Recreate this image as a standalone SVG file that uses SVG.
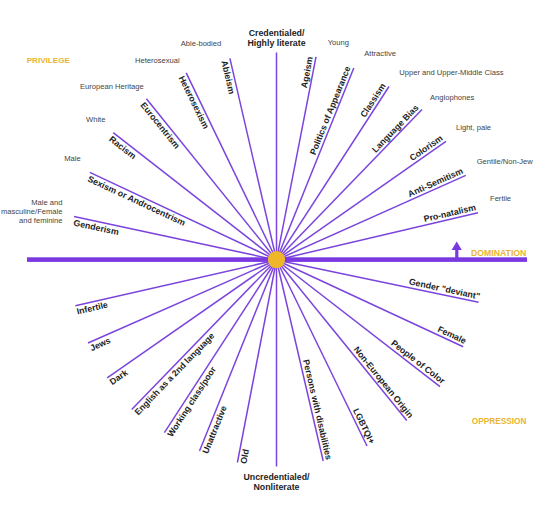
<svg xmlns="http://www.w3.org/2000/svg" width="553" height="519" viewBox="0 0 553 519">
<style>
  .spoke { stroke: #7b45dd; stroke-width: 1.5; stroke-linecap: butt; }
  .lbl { font-family: "Liberation Sans", Arial, sans-serif; font-size: 8.8px; font-weight: bold; fill: #1e1e1e; }
  .val { font-family: "Liberation Sans", Arial, sans-serif; font-size: 7.6px; fill: #444; }
  .head { font-family: "Liberation Sans", Arial, sans-serif; font-weight: bold; fill: #e8b530; }
</style>
<rect width="553" height="519" fill="#fff"/>
<g id="connectors">
  <line class="spoke" x1="276.5" y1="260" x2="276.5" y2="52.5"/>
  <line class="spoke" x1="276.5" y1="260" x2="229.9" y2="58.3"/>
  <line class="spoke" x1="276.5" y1="260" x2="186.2" y2="72.8"/>
  <line class="spoke" x1="276.5" y1="260" x2="146.4" y2="98.8"/>
  <line class="spoke" x1="276.5" y1="260" x2="113.2" y2="132.6"/>
  <line class="spoke" x1="276.5" y1="260" x2="89.8" y2="172.4"/>
  <line class="spoke" x1="276.5" y1="260" x2="74" y2="216.5"/>
  <line class="spoke" x1="276.5" y1="260" x2="316" y2="56.8"/>
  <line class="spoke" x1="276.5" y1="260" x2="353.8" y2="68"/>
  <line class="spoke" x1="276.5" y1="260" x2="389" y2="86.5"/>
  <line class="spoke" x1="276.5" y1="260" x2="422" y2="109.5"/>
  <line class="spoke" x1="276.5" y1="260" x2="446" y2="141.3"/>
  <line class="spoke" x1="276.5" y1="260" x2="465.8" y2="175.4"/>
  <line class="spoke" x1="276.5" y1="260" x2="478" y2="212.8"/>
  <line class="spoke" x1="276.5" y1="260" x2="478.6" y2="302.3"/>
  <line class="spoke" x1="276.5" y1="260" x2="463.2" y2="346.7"/>
  <line class="spoke" x1="276.5" y1="260" x2="440" y2="386.7"/>
  <line class="spoke" x1="276.5" y1="260" x2="406.8" y2="420.5"/>
  <line class="spoke" x1="276.5" y1="260" x2="367" y2="446"/>
  <line class="spoke" x1="276.5" y1="260" x2="323.2" y2="461"/>
  <line class="spoke" x1="276.5" y1="260" x2="276.5" y2="466.5"/>
  <line class="spoke" x1="276.5" y1="260" x2="237.4" y2="462.5"/>
  <line class="spoke" x1="276.5" y1="260" x2="199.5" y2="451"/>
  <line class="spoke" x1="276.5" y1="260" x2="164.4" y2="432.6"/>
  <line class="spoke" x1="276.5" y1="260" x2="131.7" y2="409.5"/>
  <line class="spoke" x1="276.5" y1="260" x2="107.2" y2="377.8"/>
  <line class="spoke" x1="276.5" y1="260" x2="88" y2="343"/>
  <line class="spoke" x1="276.5" y1="260" x2="75.4" y2="305.8"/>
  <rect x="27" y="257.3" width="500" height="4.6" fill="#7a38e0"/>
  <rect x="455.2" y="249" width="3.2" height="9" fill="#7a38e0"/>
  <polygon points="451.6,250 461.8,250 456.7,241.5" fill="#7a38e0"/>
</g>
<g id="center"><circle cx="276.5" cy="259.6" r="8.6" fill="#f0b62a"/></g>

<g id="headings">
  <text class="head" x="26.7" y="62.7" font-size="8.1">PRIVILEGE</text>
  <text class="head" x="471" y="255.5" font-size="8.7">DOMINATION</text>
  <text class="head" x="471.7" y="423.5" font-size="8.3">OPPRESSION</text>
</g>

<g id="top-node"><text class="lbl" text-anchor="middle"><tspan x="276.5" y="35.5">Credentialed/</tspan><tspan x="276.5" y="46">Highly literate</tspan></text></g>
<g id="bottom-node"><text class="lbl" text-anchor="middle"><tspan x="276.5" y="479.8">Uncredentialed/</tspan><tspan x="276.5" y="489.5">Nonliterate</tspan></text></g>

<g id="privileged-values">
  <text class="val" x="180.7" y="46">Able-bodied</text>
  <text class="val" x="135" y="62.7">Heterosexual</text>
  <text class="val" x="80" y="89">European Heritage</text>
  <text class="val" x="86" y="121.7">White</text>
  <text class="val" x="64.3" y="160.7">Male</text>
  <text class="val" text-anchor="end"><tspan x="62.5" y="205">Male and</tspan><tspan x="62.5" y="214">masculine/Female</tspan><tspan x="62.5" y="222.8">and feminine</tspan></text>
  <text class="val" x="327.7" y="45">Young</text>
  <text class="val" x="364.3" y="56">Attractive</text>
  <text class="val" x="399.3" y="75">Upper and Upper-Middle Class</text>
  <text class="val" x="430" y="100">Anglophones</text>
  <text class="val" x="456" y="130">Light, pale</text>
  <text class="val" x="476.7" y="164.3">Gentile/Non-Jew</text>
  <text class="val" x="490" y="201">Fertile</text>
</g>

<g id="upper-left-labels">
  <g id="ableism" transform="translate(229.9,58.3) rotate(77)"><text class="lbl" x="1" y="9">Ableism</text></g>
  <g id="heterosexism" transform="translate(186.2,72.8) rotate(64)"><text class="lbl" x="1" y="9">Heterosexism</text></g>
  <g id="eurocentrism" transform="translate(146.4,98.8) rotate(51)"><text class="lbl" x="1" y="9">Eurocentrism</text></g>
  <g id="racism" transform="translate(113.2,132.6) rotate(38)"><text class="lbl" x="1" y="9">Racism</text></g>
  <g id="sexism" transform="translate(89.8,172.4) rotate(25)"><text class="lbl" x="1" y="9">Sexism or Androcentrism</text></g>
  <g id="genderism" transform="translate(74,216.5) rotate(12)"><text class="lbl" x="1" y="9">Genderism</text></g>
</g>

<g id="upper-right-labels">
  <g id="ageism" transform="translate(316,56.8) rotate(-79)"><text class="lbl" x="-1" y="-3" text-anchor="end">Ageism</text></g>
  <g id="politics" transform="translate(353.8,68) rotate(-68)"><text class="lbl" x="-1" y="-3" text-anchor="end">Politics of Appearance</text></g>
  <g id="classism" transform="translate(389,86.5) rotate(-57)"><text class="lbl" x="-1" y="-3" text-anchor="end">Classism</text></g>
  <g id="language-bias" transform="translate(422,109.5) rotate(-46)"><text class="lbl" x="-1" y="-3" text-anchor="end">Language Bias</text></g>
  <g id="colorism" transform="translate(446,141.3) rotate(-35)"><text class="lbl" x="-1" y="-3" text-anchor="end">Colorism</text></g>
  <g id="anti-semitism" transform="translate(465.8,175.4) rotate(-24)"><text class="lbl" x="-1" y="-3" text-anchor="end">Anti-Semitism</text></g>
  <g id="pro-natalism" transform="translate(478,212.8) rotate(-13)"><text class="lbl" x="-1" y="-3" text-anchor="end">Pro-natalism</text></g>
</g>

<g id="lower-right-labels">
  <g id="gender-deviant" transform="translate(478.6,302.3) rotate(12)"><text class="lbl" x="0" y="-3" text-anchor="end">Gender "deviant"</text></g>
  <g id="female" transform="translate(463.2,346.7) rotate(25)"><text class="lbl" x="0" y="-3" text-anchor="end">Female</text></g>
  <g id="people-of-color" transform="translate(440,386.7) rotate(38)"><text class="lbl" x="0" y="-3" text-anchor="end">People of Color</text></g>
  <g id="non-european" transform="translate(406.8,420.5) rotate(51)"><text class="lbl" x="0" y="-3" text-anchor="end">Non-European Origin</text></g>
  <g id="lgbtqi" transform="translate(367,446) rotate(64)"><text class="lbl" x="0" y="-3" text-anchor="end">LGBTQI+</text></g>
  <g id="disabilities" transform="translate(323.2,461) rotate(77)"><text class="lbl" x="0" y="-3" text-anchor="end">Persons with disabilities</text></g>
</g>

<g id="lower-left-labels">
  <g id="old" transform="translate(237.4,462.5) rotate(-79)"><text class="lbl" x="0" y="9">Old</text></g>
  <g id="unattractive" transform="translate(199.5,451) rotate(-68)"><text class="lbl" x="0" y="9">Unattractive</text></g>
  <g id="working-class" transform="translate(164.4,432.6) rotate(-57)"><text class="lbl" x="0" y="9">Working class/poor</text></g>
  <g id="english" transform="translate(131.7,409.5) rotate(-46)"><text class="lbl" x="0" y="9">English as a 2nd language</text></g>
  <g id="dark" transform="translate(107.2,377.8) rotate(-35)"><text class="lbl" x="0" y="9">Dark</text></g>
  <g id="jews" transform="translate(88,343) rotate(-24)"><text class="lbl" x="0" y="9">Jews</text></g>
  <g id="infertile" transform="translate(75.4,305.8) rotate(-13)"><text class="lbl" x="0" y="9">Infertile</text></g>
</g>
</svg>
